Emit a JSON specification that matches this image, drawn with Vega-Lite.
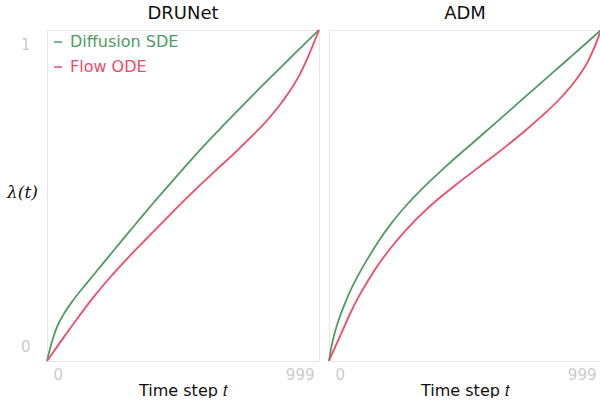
{
  "$schema": "https://vega.github.io/schema/vega-lite/v6.json",
  "padding": {"left": 6, "top": 5, "right": 0, "bottom": 0},
  "config": {
    "view": {"stroke": "#e6e6e6", "strokeWidth": 1},
    "font": "DejaVu Sans"
  },
  "data": {
    "values": [
      {"model": "DRUNet", "method": "Diffusion SDE", "t": 0, "lam": 0},
      {"model": "DRUNet", "method": "Diffusion SDE", "t": 18, "lam": 0.058},
      {"model": "DRUNet", "method": "Diffusion SDE", "t": 37, "lam": 0.104},
      {"model": "DRUNet", "method": "Diffusion SDE", "t": 61, "lam": 0.141},
      {"model": "DRUNet", "method": "Diffusion SDE", "t": 98, "lam": 0.186},
      {"model": "DRUNet", "method": "Diffusion SDE", "t": 147, "lam": 0.236},
      {"model": "DRUNet", "method": "Diffusion SDE", "t": 196, "lam": 0.285},
      {"model": "DRUNet", "method": "Diffusion SDE", "t": 244, "lam": 0.333},
      {"model": "DRUNet", "method": "Diffusion SDE", "t": 293, "lam": 0.382},
      {"model": "DRUNet", "method": "Diffusion SDE", "t": 342, "lam": 0.43},
      {"model": "DRUNet", "method": "Diffusion SDE", "t": 391, "lam": 0.478},
      {"model": "DRUNet", "method": "Diffusion SDE", "t": 475, "lam": 0.557},
      {"model": "DRUNet", "method": "Diffusion SDE", "t": 559, "lam": 0.635},
      {"model": "DRUNet", "method": "Diffusion SDE", "t": 650, "lam": 0.714},
      {"model": "DRUNet", "method": "Diffusion SDE", "t": 740, "lam": 0.79},
      {"model": "DRUNet", "method": "Diffusion SDE", "t": 830, "lam": 0.864},
      {"model": "DRUNet", "method": "Diffusion SDE", "t": 915, "lam": 0.933},
      {"model": "DRUNet", "method": "Diffusion SDE", "t": 999, "lam": 1.0},
      {"model": "DRUNet", "method": "Flow ODE", "t": 0, "lam": 0},
      {"model": "DRUNet", "method": "Flow ODE", "t": 49, "lam": 0.057},
      {"model": "DRUNet", "method": "Flow ODE", "t": 110, "lam": 0.127},
      {"model": "DRUNet", "method": "Flow ODE", "t": 171, "lam": 0.193},
      {"model": "DRUNet", "method": "Flow ODE", "t": 232, "lam": 0.253},
      {"model": "DRUNet", "method": "Flow ODE", "t": 293, "lam": 0.308},
      {"model": "DRUNet", "method": "Flow ODE", "t": 354, "lam": 0.36},
      {"model": "DRUNet", "method": "Flow ODE", "t": 415, "lam": 0.411},
      {"model": "DRUNet", "method": "Flow ODE", "t": 470, "lam": 0.457},
      {"model": "DRUNet", "method": "Flow ODE", "t": 559, "lam": 0.529},
      {"model": "DRUNet", "method": "Flow ODE", "t": 620, "lam": 0.576},
      {"model": "DRUNet", "method": "Flow ODE", "t": 681, "lam": 0.622},
      {"model": "DRUNet", "method": "Flow ODE", "t": 742, "lam": 0.671},
      {"model": "DRUNet", "method": "Flow ODE", "t": 803, "lam": 0.722},
      {"model": "DRUNet", "method": "Flow ODE", "t": 864, "lam": 0.783},
      {"model": "DRUNet", "method": "Flow ODE", "t": 926, "lam": 0.862},
      {"model": "DRUNet", "method": "Flow ODE", "t": 962, "lam": 0.925},
      {"model": "DRUNet", "method": "Flow ODE", "t": 999, "lam": 1.0},
      {"model": "ADM", "method": "Diffusion SDE", "t": 0, "lam": 0},
      {"model": "ADM", "method": "Diffusion SDE", "t": 10, "lam": 0.047},
      {"model": "ADM", "method": "Diffusion SDE", "t": 22, "lam": 0.088},
      {"model": "ADM", "method": "Diffusion SDE", "t": 40, "lam": 0.134},
      {"model": "ADM", "method": "Diffusion SDE", "t": 59, "lam": 0.175},
      {"model": "ADM", "method": "Diffusion SDE", "t": 83, "lam": 0.22},
      {"model": "ADM", "method": "Diffusion SDE", "t": 108, "lam": 0.26},
      {"model": "ADM", "method": "Diffusion SDE", "t": 145, "lam": 0.313},
      {"model": "ADM", "method": "Diffusion SDE", "t": 182, "lam": 0.362},
      {"model": "ADM", "method": "Diffusion SDE", "t": 231, "lam": 0.418},
      {"model": "ADM", "method": "Diffusion SDE", "t": 286, "lam": 0.472},
      {"model": "ADM", "method": "Diffusion SDE", "t": 350, "lam": 0.527},
      {"model": "ADM", "method": "Diffusion SDE", "t": 412, "lam": 0.575},
      {"model": "ADM", "method": "Diffusion SDE", "t": 473, "lam": 0.62},
      {"model": "ADM", "method": "Diffusion SDE", "t": 535, "lam": 0.664},
      {"model": "ADM", "method": "Diffusion SDE", "t": 596, "lam": 0.708},
      {"model": "ADM", "method": "Diffusion SDE", "t": 657, "lam": 0.752},
      {"model": "ADM", "method": "Diffusion SDE", "t": 719, "lam": 0.797},
      {"model": "ADM", "method": "Diffusion SDE", "t": 780, "lam": 0.841},
      {"model": "ADM", "method": "Diffusion SDE", "t": 842, "lam": 0.886},
      {"model": "ADM", "method": "Diffusion SDE", "t": 903, "lam": 0.93},
      {"model": "ADM", "method": "Diffusion SDE", "t": 965, "lam": 0.975},
      {"model": "ADM", "method": "Diffusion SDE", "t": 999, "lam": 1.0},
      {"model": "ADM", "method": "Flow ODE", "t": 0, "lam": 0},
      {"model": "ADM", "method": "Flow ODE", "t": 22, "lam": 0.041},
      {"model": "ADM", "method": "Flow ODE", "t": 47, "lam": 0.087},
      {"model": "ADM", "method": "Flow ODE", "t": 77, "lam": 0.142},
      {"model": "ADM", "method": "Flow ODE", "t": 108, "lam": 0.193},
      {"model": "ADM", "method": "Flow ODE", "t": 145, "lam": 0.245},
      {"model": "ADM", "method": "Flow ODE", "t": 182, "lam": 0.292},
      {"model": "ADM", "method": "Flow ODE", "t": 231, "lam": 0.346},
      {"model": "ADM", "method": "Flow ODE", "t": 292, "lam": 0.404},
      {"model": "ADM", "method": "Flow ODE", "t": 350, "lam": 0.452},
      {"model": "ADM", "method": "Flow ODE", "t": 412, "lam": 0.497},
      {"model": "ADM", "method": "Flow ODE", "t": 473, "lam": 0.537},
      {"model": "ADM", "method": "Flow ODE", "t": 535, "lam": 0.576},
      {"model": "ADM", "method": "Flow ODE", "t": 596, "lam": 0.614},
      {"model": "ADM", "method": "Flow ODE", "t": 657, "lam": 0.653},
      {"model": "ADM", "method": "Flow ODE", "t": 719, "lam": 0.695},
      {"model": "ADM", "method": "Flow ODE", "t": 780, "lam": 0.739},
      {"model": "ADM", "method": "Flow ODE", "t": 842, "lam": 0.787},
      {"model": "ADM", "method": "Flow ODE", "t": 903, "lam": 0.845},
      {"model": "ADM", "method": "Flow ODE", "t": 952, "lam": 0.907},
      {"model": "ADM", "method": "Flow ODE", "t": 977, "lam": 0.952},
      {"model": "ADM", "method": "Flow ODE", "t": 999, "lam": 1.0}
    ]
  },
  "facet": {
    "column": {
      "field": "model",
      "type": "nominal",
      "sort": ["DRUNet", "ADM"],
      "title": null,
      "header": {
        "labelFont": "DejaVu Sans",
        "labelFontSize": 18,
        "labelColor": "#111111",
        "labelPadding": 2
      }
    }
  },
  "spacing": 0,
  "spec": {
    "width": 272,
    "height": 331,
    "mark": {"type": "line", "strokeWidth": 1.8, "interpolate": "monotone"},
    "encoding": {
      "x": {
        "field": "t",
        "type": "quantitative",
        "scale": {"domain": [0, 999], "nice": false, "zero": false},
        "axis": {
          "values": [0, 999],
          "format": "d",
          "grid": false,
          "domain": false,
          "ticks": false,
          "labelColor": "#cccccc",
          "labelFont": "DejaVu Sans",
          "labelFontSize": 15,
          "labelPadding": 1,
          "labelAlign": {"condition": {"test": "datum.value == 0", "value": "left"}, "value": "right"},
          "labelOffset": {"condition": {"test": "datum.value == 0", "value": 6}, "value": -5},
          "title": "Time step 𝑡",
          "titleFont": "DejaVu Sans",
          "titleFontSize": 16,
          "titleFontWeight": "normal",
          "titleColor": "#111111",
          "titlePadding": 0
        }
      },
      "y": {
        "field": "lam",
        "type": "quantitative",
        "scale": {"domain": [0, 1], "nice": false},
        "axis": {
          "values": [0, 1],
          "format": "d",
          "grid": false,
          "domain": false,
          "ticks": false,
          "labelColor": "#cccccc",
          "labelFont": "DejaVu Sans",
          "labelFontSize": 15,
          "labelPadding": 12,
          "labelOffset": {"condition": {"test": "datum.value == 1", "value": 14}, "value": -15},
          "title": "λ(t)",
          "titleAngle": 0,
          "titleFont": "DejaVu Serif",
          "titleFontStyle": "italic",
          "titleFontWeight": "normal",
          "titleFontSize": 17,
          "titleColor": "#111111",
          "titleAlign": "center",
          "titleBaseline": "middle",
          "titleX": -20,
          "titleY": 162
        }
      },
      "color": {
        "field": "method",
        "type": "nominal",
        "scale": {"domain": ["Diffusion SDE", "Flow ODE"], "range": ["#4e9c64", "#f24a6a"]},
        "legend": {
          "orient": "none",
          "legendX": 3,
          "legendY": 4,
          "title": null,
          "symbolType": "stroke",
          "symbolSize": 64,
          "symbolStrokeWidth": 1.5,
          "labelFont": "DejaVu Sans",
          "labelFontSize": 16,
          "labelOffset": 4,
          "rowPadding": 9,
          "encode": {
            "labels": {"update": {"fill": {"signal": "datum.value === 'Flow ODE' ? '#f24a6a' : '#4e9c64'"}}}
          }
        }
      }
    }
  }
}
